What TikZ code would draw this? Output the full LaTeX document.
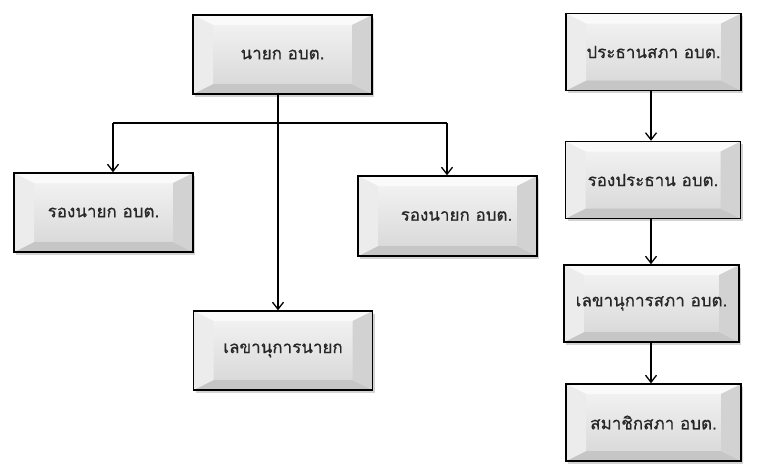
\documentclass[tikz,border=0pt]{standalone}
\usepackage{fontspec}
\newfontfamily\thaifont[Script=Thai, BoldFont={Loma}, BoldFeatures={FakeBold=0.6}]{Loma}
\usetikzlibrary{arrows.meta,shadows}
\tikzset{
  bev/.style={draw=black, line width=1.5pt, minimum width=179pt, minimum height=79pt,
    inner sep=0pt, font=\thaifont\bfseries\fontsize{17}{20}\selectfont, text=black!85,
    drop shadow={shadow xshift=2pt, shadow yshift=-2.5pt, opacity=0.35},
    path picture={
      \fill[top color=gray!8, bottom color=gray!32] (path picture bounding box.south west) rectangle (path picture bounding box.north east);
      \fill[white!96!gray] (path picture bounding box.north west) -- (path picture bounding box.north east)
        -- ([xshift=-20pt,yshift=-10pt]path picture bounding box.north east) -- ([xshift=20pt,yshift=-10pt]path picture bounding box.north west) -- cycle;
      \fill[gray!45] (path picture bounding box.south west) -- (path picture bounding box.south east)
        -- ([xshift=-20pt,yshift=10pt]path picture bounding box.south east) -- ([xshift=20pt,yshift=10pt]path picture bounding box.south west) -- cycle;
      \fill[gray!15] (path picture bounding box.north west) -- ([xshift=20pt,yshift=-10pt]path picture bounding box.north west)
        -- ([xshift=20pt,yshift=10pt]path picture bounding box.south west) -- (path picture bounding box.south west) -- cycle;
      \fill[gray!35] (path picture bounding box.north east) -- ([xshift=-20pt,yshift=-10pt]path picture bounding box.north east)
        -- ([xshift=-20pt,yshift=10pt]path picture bounding box.south east) -- (path picture bounding box.south east) -- cycle;
    }},
  bevr/.style={bev, minimum width=175pt, minimum height=77pt},
  conn/.style={line width=1.3pt, draw=black},
  arr/.style={conn, -{Straight Barb[length=7pt,width=11pt,line width=1.3pt]}}
}
\begin{document}
\begin{tikzpicture}[x=1pt,y=-1pt]
\useasboundingbox (0,0) rectangle (763,475);
\node[bev] (A) at (282.5,54.5) {นายก อบต.};
\node[bev] (B) at (103.5,212.5) {รองนายก อบต.};
\node[bev, minimum height=80pt] (C) at (447.5,216) {\hspace*{18pt}รองนายก อบต.};
\node[bev] (D) at (283,350.5) {เลขานุการนายก};
\node[bevr] (E) at (653.5,52) {ประธานสภา อบต.};
\node[bevr] (F) at (653,180) {รองประธาน อบต.};
\node[bevr] (G) at (651.5,303.5) {เลขานุการสภา อบต.};
\node[bevr] (H) at (653.5,422.5) {สมาชิกสภา อบต.};
\coordinate (j) at (278,123);
\coordinate (jl) at (113,123);
\coordinate (jr) at (447,123);
\coordinate (ax) at (651,0);
\draw[conn] (A.south -| j) -- (j);
\draw[conn] (jl) -- (jr);
\draw[arr] (jl) -- (jl |- B.north);
\draw[arr] (jr) -- (jr |- C.north);
\draw[arr] (j) -- (j |- D.north);
\draw[arr] (E.south -| ax) -- (F.north -| ax);
\draw[arr] (F.south -| ax) -- (G.north -| ax);
\draw[arr] (G.south -| ax) -- (H.north -| ax);
\end{tikzpicture}
\end{document}
